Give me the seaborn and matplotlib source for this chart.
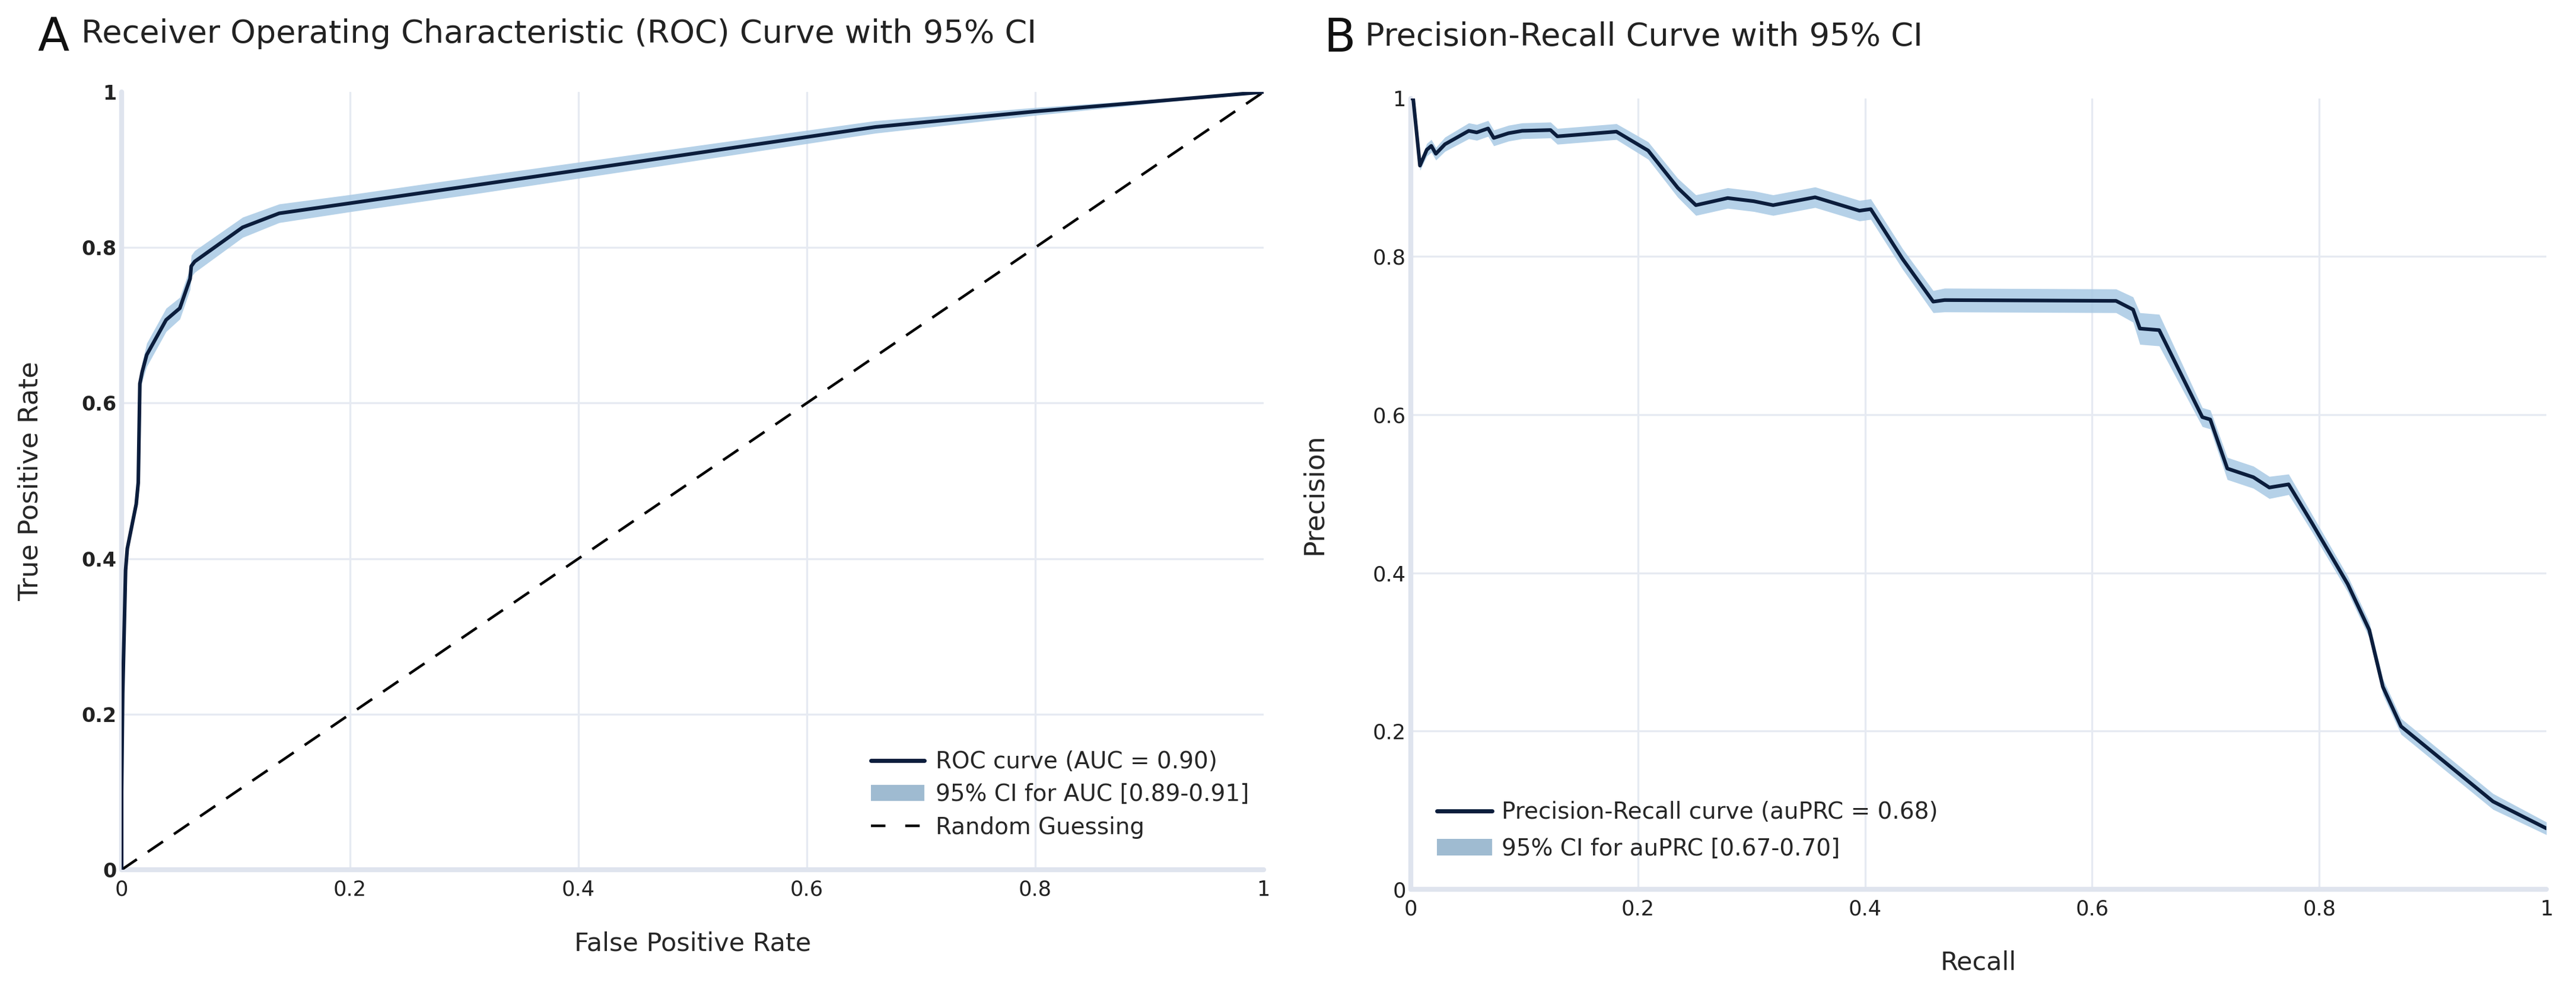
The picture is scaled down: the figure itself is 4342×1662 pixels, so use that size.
import matplotlib
matplotlib.use("Agg")
import matplotlib.pyplot as plt
import numpy as np
import pandas as pd
import seaborn as sns
from matplotlib.lines import Line2D
from matplotlib.patches import Patch

# ROC curve
fpr = [0, 0, 0.001, 0.0035, 0.005, 0.0128, 0.0146, 0.016, 0.018, 0.022, 0.039,
       0.051, 0.060, 0.061, 0.064, 0.106, 0.138, 0.2, 0.309, 0.45, 0.66, 0.8, 1.0]
tpr = [0, 0.1, 0.227, 0.385, 0.413, 0.47, 0.498, 0.625, 0.64, 0.662, 0.707,
       0.722, 0.76, 0.776, 0.782, 0.826, 0.844, 0.857, 0.880, 0.91, 0.955, 0.975, 1.0]
roc_ci_half = [0, 0.002, 0.004, 0.006, 0.006, 0.007, 0.008, 0.01, 0.012, 0.015, 0.015,
               0.014, 0.014, 0.014, 0.014, 0.013, 0.012, 0.011, 0.011, 0.01, 0.008, 0.005, 0.0]

# precision-recall curve
recall = [0, 0.002, 0.008, 0.014, 0.018, 0.022, 0.030, 0.051, 0.058, 0.068, 0.073,
          0.086, 0.098, 0.123, 0.129, 0.181, 0.209, 0.235, 0.251, 0.279, 0.302,
          0.319, 0.356, 0.395, 0.405, 0.433, 0.46, 0.47, 0.621, 0.636, 0.642,
          0.659, 0.697, 0.704, 0.719, 0.742, 0.756, 0.773, 0.794, 0.825, 0.844,
          0.856, 0.872, 0.953, 1.0]
precision = [1.0, 1.0, 0.915, 0.935, 0.94, 0.93, 0.942, 0.959, 0.957, 0.962, 0.95,
             0.956, 0.959, 0.96, 0.952, 0.958, 0.934, 0.887, 0.865, 0.874, 0.87,
             0.865, 0.875, 0.858, 0.86, 0.797, 0.743, 0.745, 0.744, 0.733, 0.709,
             0.707, 0.597, 0.594, 0.532, 0.521, 0.508, 0.512, 0.462, 0.386, 0.328,
             0.256, 0.206, 0.111, 0.077]
pr_ci_half = [0, 0.002, 0.006, 0.008, 0.008, 0.008, 0.009, 0.01, 0.01, 0.01, 0.01,
              0.01, 0.01, 0.01, 0.01, 0.01, 0.011, 0.012, 0.013, 0.013, 0.013,
              0.013, 0.013, 0.013, 0.013, 0.013, 0.014, 0.015, 0.015, 0.016, 0.02,
              0.02, 0.012, 0.012, 0.014, 0.014, 0.014, 0.013, 0.011, 0.01, 0.01,
              0.01, 0.01, 0.01, 0.008]

ticks = [0, 0.2, 0.4, 0.6, 0.8, 1]
tick_labels = ["0", "0.2", "0.4", "0.6", "0.8", "1"]

line_col = "#0b1d3c"
band_col = "#a8c9e4"
grid_col = "#e6eaf2"

sns.set_theme(style="white")
plt.rcParams["font.family"] = ["DejaVu Sans"]

roc = pd.DataFrame({"fpr": fpr, "tpr": tpr, "ci": roc_ci_half})
pr = pd.DataFrame({"recall": recall, "precision": precision, "ci": pr_ci_half})

fig = plt.figure(figsize=(21.71, 8.31), dpi=200)
ax1 = fig.add_axes([0.0472, 0.1179, 0.4433, 0.7888])
ax2 = fig.add_axes([0.5477, 0.0981, 0.4408, 0.8021])


def style_axes(ax):
    ax.set_xlim(0, 1)
    ax.set_ylim(0, 1)
    ax.set_xticks(ticks)
    ax.set_xticklabels(tick_labels)
    ax.set_yticks(ticks)
    ax.set_yticklabels(tick_labels)
    for v in ticks[1:-1]:
        ax.axhline(v, color=grid_col, lw=1.2, zorder=0)
        ax.axvline(v, color=grid_col, lw=1.2, zorder=0)
    ax.axhline(0, color="#dfe4ee", lw=3, zorder=0.5, clip_on=False)
    ax.axvline(0, color="#dfe4ee", lw=3, zorder=0.5, clip_on=False)
    for s in ax.spines.values():
        s.set_visible(False)
    ax.tick_params(axis="both", length=0, labelsize=12.7, colors="#222222")
    ax.tick_params(axis="x", pad=6)
    ax.tick_params(axis="y", pad=3)


# panel A
style_axes(ax1)
for lab in ax1.get_yticklabels():
    lab.set_fontweight("bold")
    lab.set_fontsize(12)
ax1.fill_between(roc["fpr"], roc["tpr"] - roc["ci"], roc["tpr"] + roc["ci"],
                 color=band_col, alpha=0.85, lw=0, zorder=2)
sns.lineplot(data=roc, x="fpr", y="tpr", ax=ax1, color=line_col, lw=2.2,
             estimator=None, sort=False, zorder=3)
ax1.plot([0, 1], [0, 1], color="black", lw=1.6, ls=(0, (7, 5)), zorder=2.5)
ax1.set_xlabel("False Positive Rate", fontsize=15.5, va="top")
ax1.set_ylabel("True Positive Rate", fontsize=16.3)
ax1.xaxis.set_label_coords(0.5, -0.079)
ax1.yaxis.set_label_coords(-0.069, 0.5)
h1 = [Line2D([], [], color=line_col, lw=2.5),
      Patch(facecolor="#9fbbd1", edgecolor="none"),
      Line2D([], [], color="black", lw=1.6, ls=(0, (5.5, 7.5)))]
ax1.legend(h1, ["ROC curve (AUC = 0.90)", "95% CI for AUC [0.89-0.91]", "Random Guessing"],
           loc="lower right", bbox_to_anchor=(0.9875, 0.04), frameon=False,
           borderpad=0, borderaxespad=0, fontsize=14, handlelength=2.3,
           handletextpad=0.5, labelspacing=0.44)

# panel B
style_axes(ax2)
ax2.fill_between(pr["recall"], pr["precision"] - pr["ci"], pr["precision"] + pr["ci"],
                 color=band_col, alpha=0.85, lw=0, zorder=2)
sns.lineplot(data=pr, x="recall", y="precision", ax=ax2, color=line_col, lw=2.2,
             estimator=None, sort=False, zorder=3)
ax2.set_xlabel("Recall", fontsize=15.5, va="top")
ax2.set_ylabel("Precision", fontsize=16.5)
ax2.xaxis.set_label_coords(0.5, -0.077)
ax2.yaxis.set_label_coords(-0.073, 0.5)
h2 = [Line2D([], [], color=line_col, lw=2.5),
      Patch(facecolor="#9fbbd1", edgecolor="none")]
ax2.legend(h2, ["Precision-Recall curve (auPRC = 0.68)", "95% CI for auPRC [0.67-0.70]"],
           loc="lower left", bbox_to_anchor=(0.023, 0.037), frameon=False,
           borderpad=0, borderaxespad=0, fontsize=14, handlelength=2.4,
           handletextpad=0.4, labelspacing=0.6)

fig.text(0.0145, 0.9477, "A", fontsize=28, color="#111111")
fig.text(0.0316, 0.9567, "Receiver Operating Characteristic (ROC) Curve with 95% CI",
         fontsize=19.5, color="#222222")
fig.text(0.514, 0.9477, "B", fontsize=28, color="#111111")
fig.text(0.530, 0.9537, "Precision-Recall Curve with 95% CI", fontsize=19.5, color="#222222")

fig.savefig("out.png", dpi=200)
